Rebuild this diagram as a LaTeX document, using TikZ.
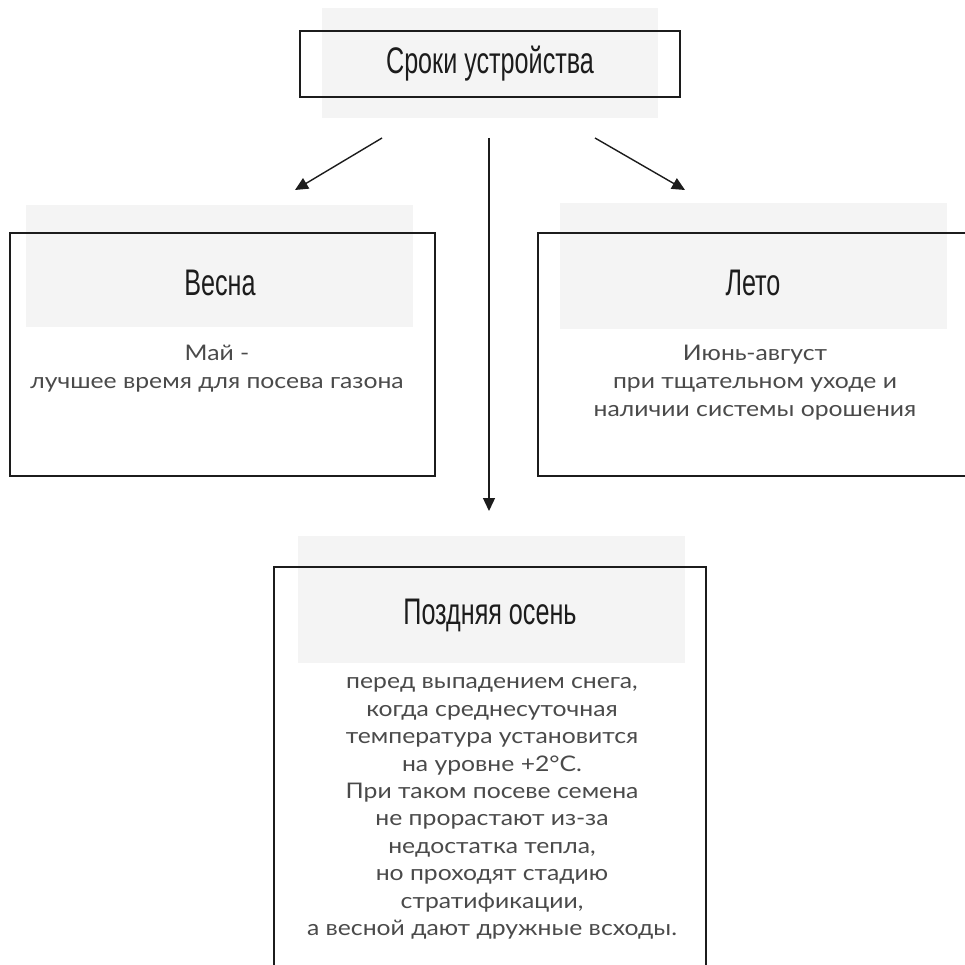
\documentclass[tikz,border=0pt]{standalone}
\usepackage{fontspec}
\setmainfont{Lato}
\newfontfamily\titlefont{Liberation Sans}[FakeStretch=0.68]
\newfontfamily\bodyfont{Lato}[FakeStretch=1.15]
\usetikzlibrary{arrows.meta}
\definecolor{panelbg}{HTML}{F4F4F4}
\definecolor{ink}{HTML}{1C1C1C}
\definecolor{bodyink}{HTML}{4A4A4A}
\begin{document}
\begin{tikzpicture}[x=1pt,y=-1pt,
  bgpanel/.style={fill=panelbg,draw=none},
  frame/.style={draw=ink,line width=1.8pt,fill=none},
  titletext/.style={text=ink,font=\titlefont\fontsize{37}{40}\selectfont,inner sep=0},
  bodytext/.style={text=bodyink,align=center,inner sep=0,font=\bodyfont\fontsize{21.5}{28}\selectfont},
  link/.style={draw=ink,line width=1.4pt,-{Triangle[length=13pt,width=12pt]}}]
\useasboundingbox (0,0) rectangle (965,965);
\clip (0,0) rectangle (965,965);
% top
\fill[bgpanel] (322,8) rectangle (658,118);
\node[frame,minimum width=380pt,minimum height=66pt,inner sep=0] (topbox) at (490,64) {};
\node[titletext] (toptitle) at (490,64) {Сроки устройства};
% left
\fill[bgpanel] (26,205) rectangle (413,327);
\node[frame,minimum width=425pt,minimum height=243pt,inner sep=0] (springbox) at (222.5,354.5) {};
\node[titletext] (springtitle) at (220,283) {Весна};
\node[bodytext] (springbody) at (217,369) {Май -\\лучшее время для посева газона};
% right
\fill[bgpanel] (560,203) rectangle (947,329);
\node[frame,minimum width=437pt,minimum height=243pt,inner sep=0] (summerbox) at (756.5,354.5) {};
\node[titletext] (summertitle) at (753,283) {Лето};
\node[bodytext] (summerbody) at (755,383) {Июнь-август\\при тщательном уходе и\\наличии системы орошения};
% bottom
\fill[bgpanel] (298,536) rectangle (685,663);
\node[frame,minimum width=432pt,minimum height=408pt,inner sep=0] (autumnbox) at (490,771) {};
\node[titletext] (autumntitle) at (490,615) {Поздняя осень};
\node[bodytext,font=\bodyfont\fontsize{21.5}{27.4}\selectfont] (autumnbody) at (492,808.5) {перед выпадением снега,\\когда среднесуточная\\температура установится\\на уровне +2°C.\\При таком посеве семена\\не прорастают из-за\\недостатка тепла,\\но проходят стадию\\стратификации,\\а весной дают дружные всходы.};
% connectors
\coordinate (lstart) at (382,138);
\coordinate (lend) at (295,190);
\coordinate (rstart) at (595,138);
\coordinate (rend) at (685,190);
\coordinate (dstart) at (489,138);
\coordinate (dend) at (489,511);
\draw[link] (lstart) -- (lend);
\draw[link] (rstart) -- (rend);
\draw[link] (dstart) -- (dend);
\end{tikzpicture}
\end{document}
